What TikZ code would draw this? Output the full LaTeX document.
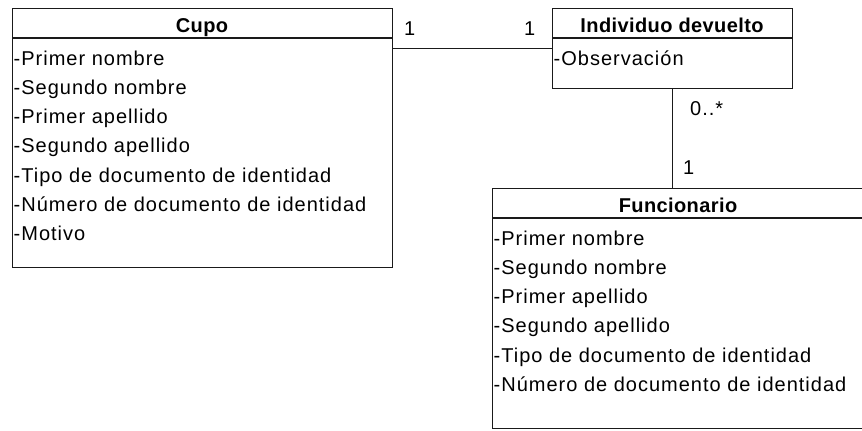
\documentclass[tikz,border=0pt]{standalone}
\usepackage{fontspec}
\setmainfont{Liberation Sans}
\newfontfamily\umlfont[LetterSpace=5]{Liberation Sans}
\newfontfamily\umlhead[LetterSpace=2]{Liberation Sans}
\usepackage{tikz}
\usetikzlibrary{positioning,calc}
\definecolor{UmlInk}{HTML}{1A1A1A}

\begin{document}
\begin{tikzpicture}[x=1pt,y=-1pt,
    classbox/.style={draw=UmlInk,line width=1.3pt,inner sep=0pt,anchor=north west},
    attr/.style={anchor=base west,inner sep=0pt,font=\umlfont\fontsize{20}{22}\selectfont},
    head/.style={anchor=base,inner sep=0pt,font=\umlhead\bfseries\fontsize{20}{22}\selectfont},
    mult/.style={anchor=base west,inner sep=0pt,font=\umlfont\fontsize{20}{22}\selectfont},
    assoc/.style={draw=UmlInk,line width=1.3pt}]
  \useasboundingbox (0,0) rectangle (862,431);
  % name, left, top, width, height, title, attributes
  \def\umlclass#1#2#3#4#5#6#7{
    \node[classbox,minimum width=#4pt,minimum height=#5pt] (#1) at (#2,#3) {};
    \draw[assoc] (#2,#3+30) -- ++(#4,0);
    \node[head] (#1-head) at (#2+#4/2,#3+24) {#6};
    \foreach \t [count=\i] in {#7}
      \node[attr] (#1-a\i) at (#2+1.5,#3+57+29.3*\i-29.3) {\t};
  }
  \umlclass{cupo}{12}{8}{380}{259}{Cupo}{-Primer nombre,-Segundo nombre,-Primer apellido,-Segundo apellido,-Tipo de documento de identidad,-Número de documento de identidad,-Motivo}
  \umlclass{indiv}{552}{8}{240}{80}{Individuo devuelto}{-Observación}
  \umlclass{func}{492}{188}{372}{240}{Funcionario}{-Primer nombre,-Segundo nombre,-Primer apellido,-Segundo apellido,-Tipo de documento de identidad,-Número de documento de identidad}
  % associations
  \draw[assoc] (indiv.west) -- (indiv.west -| cupo.east);
  \draw[assoc] (indiv.south) -- (indiv.south |- func.north);
  \node[mult] (m-cupo) at (404,35) {1};
  \node[mult] (m-indiv) at (524,35) {1};
  \node[mult] (m-many) at (690,115) {0..*};
  \node[mult] (m-func) at (683,174) {1};
\end{tikzpicture}
\end{document}
